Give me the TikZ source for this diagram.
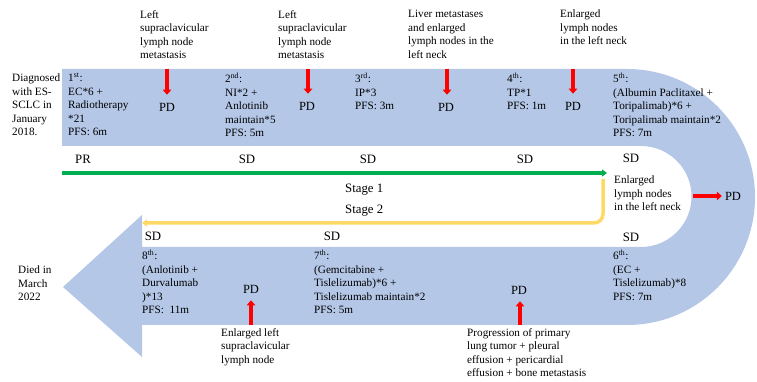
\documentclass[tikz,border=0pt]{standalone}
\usepackage{fontspec}
\setmainfont{Liberation Serif}
\usetikzlibrary{arrows.meta}

\definecolor{bandblue}{RGB}{180,199,231}
\definecolor{stagegreen}{RGB}{0,176,80}
\definecolor{stageyellow}{RGB}{255,217,102}

\begin{document}
\begin{tikzpicture}[x=1pt,y=1pt,
  every node/.style={font=\fontsize{11.2}{13.5}\selectfont,inner sep=0pt},
  txt/.style={anchor=north west,align=left,execute at begin node=\rule{0pt}{11pt}},
  pd/.style={font=\fontsize{12.5}{14}\selectfont,inner sep=3pt},
  status/.style={font=\fontsize{12.8}{14}\selectfont},
  redarrow/.style={red,line width=4pt,-{Triangle[length=5pt,width=8.5pt]}},
  stageline/.style={line width=3.5pt,-{Triangle[length=5pt,width=7pt]}}]

\useasboundingbox (0,0) rectangle (757,382);

% band
\fill[bandblue] (62,313) -- (627,313) arc[start angle=90,end angle=-90,radius=128pt]
  -- (142,57) -- (142,25) -- (63,95) -- (142,167) -- (142,135) -- (641,135)
  arc[start angle=-90,end angle=90,radius=50.5pt] -- (62,236) -- cycle;

% stages
\coordinate (g0) at (62,209);
\coordinate (g1) at (607,209);
\draw[stageline,stagegreen] (g0) -- (g1);
\coordinate (y0) at (603,203);
\coordinate (y1) at (603,159);
\coordinate (y2) at (142,159);
\draw[stageline,stageyellow,rounded corners=9pt] (y0) -- (y1) -- (y2);
\node[status,anchor=west] (st1) at (345,192) {Stage 1};
\node[status,anchor=west] (st2) at (345,171) {Stage 2};

% start and end
\node[txt] (diag) at (12,308) {Diagnosed\\with ES-\\SCLC in\\January\\2018.};
\node[txt] (died) at (18,116) {Died in\\March\\2022};

% treatments, line 1
\node[txt] (t1) at (68,309) {1\textsuperscript{st}:\\EC*6 +\\Radiotherapy\\*21\\PFS: 6m};
\node[txt] (t2) at (225,309) {2\textsuperscript{nd}:\\NI*2 +\\Anlotinib\\maintain*5\\PFS: 5m};
\node[txt] (t3) at (355,309) {3\textsuperscript{rd}:\\IP*3\\PFS: 3m};
\node[txt] (t4) at (507,309) {4\textsuperscript{th}:\\TP*1\\PFS: 1m};
\node[txt] (t5) at (613,309) {5\textsuperscript{th}:\\(Albumin Paclitaxel +\\Toripalimab)*6 +\\Toripalimab maintain*2\\PFS: 7m};

% treatments, line 2
\node[txt] (t6) at (613,132) {6\textsuperscript{th}:\\(EC +\\Tislelizumab)*8\\PFS: 7m};
\node[txt] (t7) at (314,132) {7\textsuperscript{th}:\\(Gemcitabine +\\Tislelizumab)*6 +\\Tislelizumab maintain*2\\PFS: 5m};
\node[txt] (t8) at (142,132) {8\textsuperscript{th}:\\(Anlotinib +\\Durvalumab\\)*13\\PFS:\ \ 11m};

% responses
\node[status] (r1) at (83,223) {PR};
\node[status] (r2) at (247,223) {SD};
\node[status] (r3) at (368,223) {SD};
\node[status] (r4) at (525,223) {SD};
\node[status] (r5) at (631,224) {SD};
\node[status] (r6) at (631,145) {SD};
\node[status] (r7) at (332,146) {SD};
\node[status] (r8) at (153,146) {SD};

% progressions
\node[txt] (n1) at (140,372) {Left\\supraclavicular\\lymph node\\metastasis};
\node[txt] (n2) at (278,372) {Left\\supraclavicular\\lymph node\\metastasis};
\node[txt] (n3) at (408,372) {Liver metastases\\and enlarged\\lymph nodes in the\\left neck};
\node[txt] (n4) at (560,372) {Enlarged\\lymph nodes\\in the left neck};
\node[txt] (n5) at (614,206) {Enlarged\\lymph nodes\\in the left neck};
\node[txt] (n7) at (467,54) {Progression of primary\\lung tumor + pleural\\effusion + pericardial\\effusion + bone metastasis};
\node[txt] (n8) at (221,54) {Enlarged left\\supraclavicular\\lymph node};

\node[pd] (pd1) at (167,275) {PD};
\node[pd] (pd2) at (307,276) {PD};
\node[pd] (pd3) at (446,275) {PD};
\node[pd] (pd4) at (573,276) {PD};
\node[pd] (pd5) at (733,186) {PD};
\node[pd] (pd7) at (519,92) {PD};
\node[pd] (pd8) at (251,93) {PD};

\coordinate (a1) at (167,313);
\coordinate (a2) at (308,313);
\coordinate (a3) at (447,313);
\coordinate (a4) at (573,313);
\coordinate (a5) at (693,186);
\coordinate (a7) at (520,57);
\coordinate (a8) at (251,57);
\foreach \i in {1,2,3,4}
  \draw[redarrow,shorten >=5pt] (a\i) -- (a\i |- pd\i.north);
\draw[redarrow] (a5) -- (pd5.west);
\foreach \i in {7,8}
  \draw[redarrow,shorten >=4pt] (a\i) -- (a\i |- pd\i.south);

\end{tikzpicture}
\end{document}
